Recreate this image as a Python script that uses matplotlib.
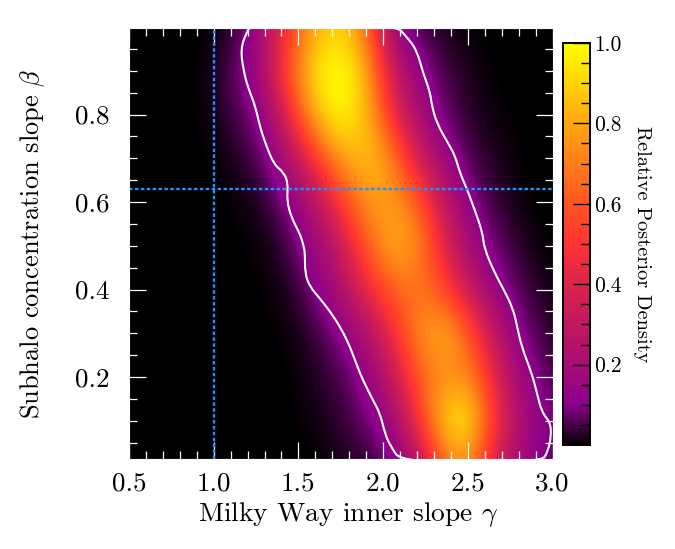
import numpy as np
import matplotlib
matplotlib.use('Agg')
import matplotlib.pyplot as plt
from matplotlib.colors import LinearSegmentedColormap
from matplotlib.path import Path
from matplotlib.patches import PathPatch

plt.rcParams['font.family'] = ['cmr10', 'DejaVu Serif']
plt.rcParams['mathtext.fontset'] = 'cm'
plt.rcParams['axes.formatter.use_mathtext'] = True

# grid the density was read on
gamma = [0.5, 0.6, 0.7, 0.8, 0.9, 1.0, 1.1, 1.2, 1.3, 1.4, 1.5, 1.6, 1.7,
         1.8, 1.9, 2.0, 2.1, 2.2, 2.3, 2.4, 2.5, 2.6, 2.7, 2.8, 2.9, 3.0]
beta = [0.0, 0.1, 0.2, 0.3, 0.4, 0.5, 0.6, 0.7, 0.8, 0.9, 1.0]

# density, one row per beta, bottom to top
row_00 = [0, 0, 0, 0, 0, 0, 0, 0, 0, 0, 0, 0, .01, .015, .03, .06, .10, .24, .46, .68, .70, .50, .30, .18, .12, .05]
row_01 = [0, 0, 0, 0, 0, 0, 0, 0, 0, 0, .004, .01, .025, .05, .08, .13, .26, .48, .76, .96, .96, .68, .42, .24, .14, .09]
row_02 = [0, 0, 0, 0, 0, 0, 0, 0, 0, 0, .008, .02, .04, .07, .13, .23, .40, .58, .70, .72, .70, .54, .34, .18, .10, .05]
row_03 = [0, 0, 0, 0, 0, 0, 0, 0, 0, .005, .015, .04, .08, .14, .23, .37, .54, .72, .80, .80, .62, .40, .22, .11, .06, .025]
row_04 = [0, 0, 0, 0, 0, 0, 0, 0, .005, .015, .04, .10, .18, .29, .43, .56, .64, .66, .62, .48, .32, .19, .11, .06, .03, .01]
row_05 = [0, 0, 0, 0, 0, 0, 0, .005, .01, .03, .09, .16, .26, .42, .60, .76, .82, .74, .54, .34, .20, .11, .06, .03, .01, 0]
row_06 = [0, 0, 0, 0, 0, 0, .005, .01, .03, .08, .15, .27, .42, .60, .74, .78, .74, .62, .42, .24, .12, .06, .03, .01, 0, 0]
row_07 = [0, 0, 0, 0, 0, .005, .015, .04, .08, .18, .32, .50, .70, .82, .86, .80, .60, .38, .22, .12, .06, .03, .015, .005, 0, 0]
row_08 = [0, 0, 0, 0, .005, .015, .04, .08, .15, .33, .60, .84, .98, .96, .84, .60, .36, .21, .11, .06, .03, .012, .005, 0, 0, 0]
row_09 = [0, 0, 0, 0, .005, .02, .06, .12, .24, .50, .74, .93, 1.0, .98, .80, .50, .26, .14, .08, .04, .02, .008, 0, 0, 0, 0]
row_10 = [0, 0, 0, 0, 0, .005, .025, .09, .22, .42, .62, .80, .88, .84, .64, .32, .10, .05, .025, .01, .005, 0, 0, 0, 0, 0]
density = [row_00, row_01, row_02, row_03, row_04, row_05, row_06, row_07, row_08, row_09, row_10]

# white contour
left_gamma = [1.224, 1.195, 1.159, 1.175, 1.204, 1.244, 1.273, 1.309, 1.356, 1.411, 1.440, 1.431, 1.460, 1.509,
              1.530, 1.539, 1.539, 1.568, 1.627, 1.704, 1.763, 1.805, 1.852, 1.881, 1.940, 1.982, 2.011, 2.041, 2.110]
left_beta = [1.006, .989, .951, .902, .860, .822, .772, .730, .686, .669, .643, .604, .563, .528,
             .501, .483, .437, .406, .380, .341, .303, .269, .220, .193, .147, .117, .071, .044, .004]
right_gamma = [2.070, 2.139, 2.198, 2.237, 2.277, 2.287, 2.316, 2.383, 2.424, 2.454, 2.493, 2.542, 2.588,
               2.596, 2.660, 2.708, 2.767, 2.792, 2.818, 2.877, 2.907, 2.936, 2.989, 2.991, 2.975, 2.936]
right_beta = [1.006, .978, .948, .894, .852, .822, .781, .735, .707, .666, .632, .581, .529,
              .495, .437, .403, .357, .314, .269, .209, .166, .120, .095, .063, .033, .004]

gamma_ref = 1.0
beta_ref = 0.63

x_major = [0.5, 1.0, 1.5, 2.0, 2.5, 3.0]
x_labels = ['0.5', '1.0', '1.5', '2.0', '2.5', '3.0']
y_major = [0.2, 0.4, 0.6, 0.8]
y_labels = ['0.2', '0.4', '0.6', '0.8']
cb_major = [0.2, 0.4, 0.6, 0.8, 1.0]
cb_labels = ['0.2', '0.4', '0.6', '0.8', '1.0']

cmap = LinearSegmentedColormap.from_list('posterior', [
    (0.0, (0, 0, 0)),
    (0.03, (0.18, 0, 0.18)),
    (0.1, (0.55, 0, 0.55)),
    (0.2, (0.66, 0.05, 0.45)),
    (0.4, (0.86, 0.14, 0.30)),
    (0.5, (1, 0.2, 0.2)),
    (0.6, (1, 0.33, 0.13)),
    (0.8, (1, 0.65, 0.07)),
    (1.0, (1, 1, 0)),
])

fig = plt.figure(figsize=(6.75, 5.49), dpi=100)
ax = fig.add_axes([129/675, 1-459.3/549, 423.5/675, 431.3/549])
im = ax.imshow(density, origin='lower', cmap=cmap, vmin=0, vmax=1, aspect='auto',
               interpolation='bicubic',
               extent=[gamma[0]-0.05, gamma[-1]+0.05, beta[0]-0.05, beta[-1]+0.05])

# contour as a closed smooth curve, the read points act as control points
loop = np.column_stack([left_gamma + right_gamma[::-1], left_beta + right_beta[::-1]])
mids = (loop + np.roll(loop, -1, axis=0)) / 2
verts = [mids[-1]]
codes = [Path.MOVETO]
for p, m in zip(loop, mids):
    verts += [p, m]
    codes += [Path.CURVE3, Path.CURVE3]
ax.add_patch(PathPatch(Path(verts, codes), fill=False, edgecolor='white', lw=1.5))

dash = (0, (1.5, 1))
ax.axvline(gamma_ref, color='#1e90ff', lw=1.7, linestyle=dash)
ax.axhline(beta_ref, color='#1e90ff', lw=1.7, linestyle=dash)

ax.set_xlim(0.5, 3.0)
ax.set_ylim(0.012, 0.998)
ax.set_xticks(x_major, x_labels)
ax.set_yticks(y_major, y_labels)
ax.set_xticks(np.arange(0.5, 3.01, 0.1), minor=True)
ax.set_yticks(np.arange(0.05, 1.0, 0.05), minor=True)
ax.tick_params(which='both', direction='in', top=True, right=True, color='white',
               width=0.9, labelsize=19.5, zorder=5)
ax.tick_params(which='major', length=12.3, pad=9)
ax.tick_params(which='minor', length=5.9)
ax.tick_params(axis='y', which='major', pad=14)
for s in ax.spines.values():
    s.set_color('white')
    s.set_linewidth(0.8)
ax.set_xlabel(r'Milky Way inner slope $\gamma$', fontsize=19.8, labelpad=3, x=0.518)
ax.set_ylabel(r'Subhalo concentration slope $\beta$', fontsize=19, labelpad=20)

cax = fig.add_axes([562.5/675, 1-445/549, 27.5/675, 402/549])
cb = fig.colorbar(im, cax=cax)
cb.set_ticks(cb_major, labels=cb_labels)
cb.ax.set_yticks(np.arange(0.05, 1.0, 0.05), minor=True)
cb.ax.tick_params(which='both', direction='in', right=True, color='black', width=1.0, labelsize=15.5)
cb.ax.tick_params(which='major', length=12.5, pad=3)
cb.ax.tick_params(which='minor', length=6.2)
cb.outline.set_linewidth(1.4)
cb.set_label('Relative Posterior Density', fontsize=14.7, rotation=270, labelpad=21)

fig.savefig('out.png', dpi=100)
